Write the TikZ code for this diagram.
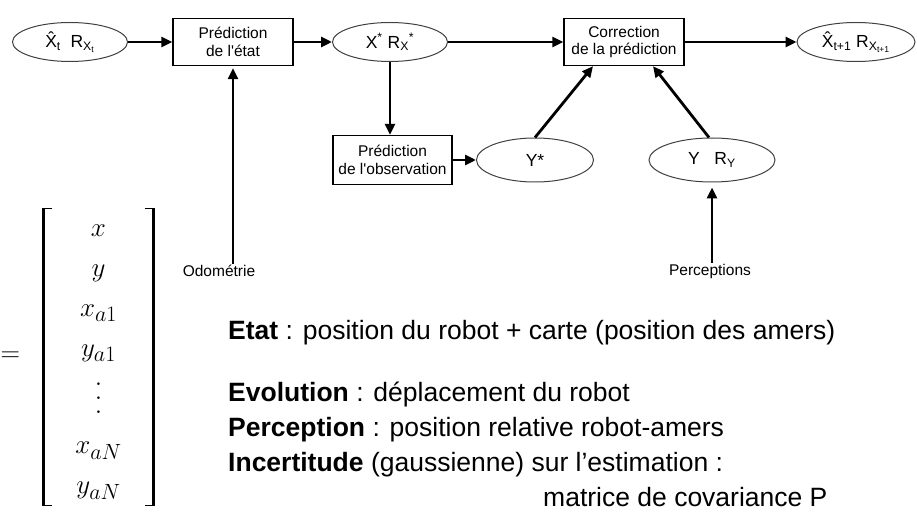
\RequirePackage{fix-cm}
\documentclass[tikz,border=0pt]{standalone}
\usepackage{amsmath}
\usepackage[no-math]{fontspec}
\setmainfont{Liberation Sans}
\usetikzlibrary{arrows.meta,positioning,shapes.geometric}

\DeclareMathSizes{27}{27}{22}{18}
\newcommand{\tallvdots}{\vbox{\baselineskip=14pt\lineskiplimit=0pt\kern14pt\hbox{$.$}\hbox{$.$}\hbox{$.$}}}

\begin{document}
\begin{tikzpicture}[x=1pt,y=-1pt,
  etape/.style={draw, line width=1.4pt, minimum width=120pt, minimum height=47pt, align=center, inner sep=1pt, font=\fontsize{15.5}{17.5}\selectfont},
  estim/.style={ellipse, draw=black!75, line width=1pt, minimum width=115pt, minimum height=39pt, inner sep=0pt, font=\fontsize{17.5}{19}\selectfont},
  source/.style={inner sep=1pt, font=\fontsize{15.5}{17.5}\selectfont},
  flux/.style={line width=2.8pt, -{Triangle[length=11pt,width=10pt]}},
  texte/.style={anchor=base west, inner sep=0pt, font=\fontsize{26.5}{30}\selectfont},
  crochet/.style={line width=1.6pt}]

  \useasboundingbox (0,0) rectangle (917,529);

  % Filter chain
  \node[estim] (xt) at (70,42) {\^{X}\textsubscript{t}~~R\textsubscript{X\textsubscript{t}}};
  \node[etape] (predetat) at (233,42) {Prédiction\\de l\textquotesingle état};
  \node[estim] (xs) at (390,42) {X\textsuperscript{*}~R\textsubscript{X}\textsuperscript{*}};
  \node[etape] (correct) at (624,42) {Correction\\de la prédiction};
  \node[estim, minimum width=118pt] (xt1) at (856,42) {\^{X}\textsubscript{t+1}~R\textsubscript{X\textsubscript{t+1}}};

  % Observation
  \node[etape, minimum width=119pt, minimum height=49pt] (predobs) at (392.5,160) {Prédiction\\de l\textquotesingle observation};
  \node[estim, minimum width=117pt, minimum height=44pt] (ys) at (535,160) {Y*};
  \node[estim, minimum width=126pt, minimum height=44pt] (yr) at (712,160) {Y~~~R\textsubscript{Y}};

  % Inputs
  \node[source] (odo) at (219,271) {Odométrie};
  \node[source] (perc) at (710,271) {Perceptions};

  \draw[flux] (xt) -- (predetat);
  \draw[flux] (predetat) -- (xs);
  \draw[flux] (xs) -- (correct);
  \draw[flux] (correct) -- (xt1);
  \draw[flux] (xs.south) -- (xs.south |- predobs.north);
  \draw[flux] (predobs) -- (ys);
  \draw[flux] (ys.north) -- ([xshift=-31pt]correct.south);
  \draw[flux] ([xshift=-3pt]yr.north) -- ([xshift=29pt]correct.south);
  \draw[flux, shorten >=2pt] (predetat.south |- odo.north) -- (predetat.south);
  \draw[flux, shorten >=5pt] (yr.south |- perc.north) -- (yr.south);

  % State vector
  \node[inner sep=0pt, minimum width=110pt, font=\fontsize{27}{32}\selectfont] (mat) at (98.5,357) {$\renewcommand{\arraystretch}{1.25}\setlength{\arraycolsep}{0pt}\begin{array}{c} x\\ y\\ x_{a1}\\ y_{a1}\\ \tallvdots\\ x_{aN}\\ y_{aN}\end{array}$};
  \draw[crochet] ([xshift=9pt]mat.north west) -- (mat.north west) -- (mat.south west) -- ([xshift=9pt]mat.south west);
  \draw[crochet] ([xshift=-9pt]mat.north east) -- (mat.north east) -- (mat.south east) -- ([xshift=-9pt]mat.south east);
  \draw[line width=3pt] (mat.north west) -- (mat.south west);
  \draw[line width=3pt] (mat.north east) -- (mat.south east);
  \node[inner sep=0pt, font=\fontsize{27}{32}\selectfont, left=23pt of mat] (egal) {$=$};

  % Notes
  \node[texte] (etat) at (228,339.5) {\textbf{Etat} : position du robot + carte (position des amers)};
  \node[texte] (evol) at (228,401.5) {\textbf{Evolution} : déplacement du robot};
  \node[texte] (percep) at (228,436.5) {\textbf{Perception} : position relative robot-amers};
  \node[texte] (incert) at (228,471.5) {\textbf{Incertitude} (gaussienne) sur l’estimation :};
  \node[texte] (cov) at (543,506.5) {matrice de covariance P};
\end{tikzpicture}
\end{document}
